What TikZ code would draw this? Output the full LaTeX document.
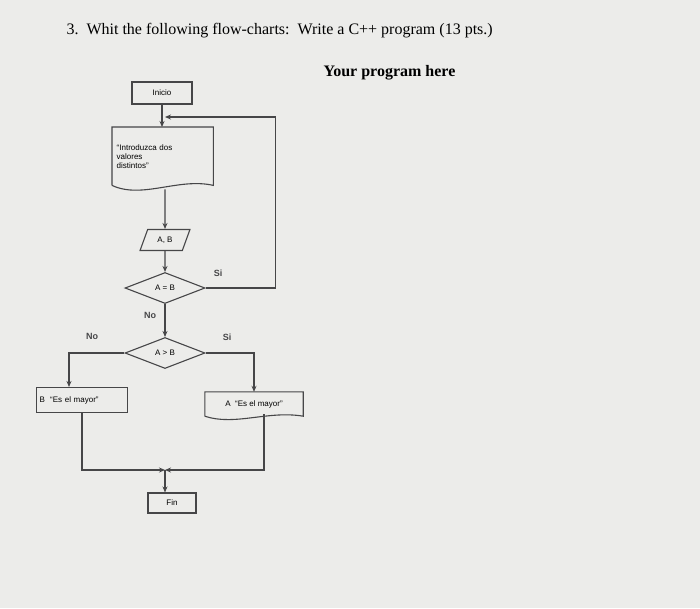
\documentclass[tikz,border=0pt]{standalone}
\usepackage{fontspec}
\setmainfont{Liberation Serif}
\newfontfamily\chartfont{Liberation Sans}
\usetikzlibrary{shapes.geometric, positioning, arrows.meta}
\definecolor{PaperGrey}{RGB}{236, 236, 234}
\definecolor{InkGrey}{RGB}{70, 70, 72}
\tikzset{
  box/.style={draw=InkGrey, line width=1.1pt, font=\chartfont\fontsize{8}{9}\selectfont, inner sep=2pt},
  io/.style={trapezium, trapezium left angle=70, trapezium right angle=110, draw=InkGrey, line width=1.1pt, font=\chartfont\fontsize{8}{9}\selectfont, minimum width=50pt, minimum height=21pt},
  decision/.style={diamond, aspect=2.6, draw=InkGrey, line width=1.1pt, minimum width=80pt, minimum height=31pt, inner sep=0pt, font=\chartfont\fontsize{8}{9}\selectfont},
  flow/.style={draw=InkGrey, line width=1.1pt, -{Stealth[length=6pt, width=5pt]}},
  line/.style={draw=InkGrey, line width=1.1pt},
  tag/.style={font=\chartfont\bfseries\fontsize{9}{10}\selectfont, text=InkGrey}
}
\begin{document}
\begin{tikzpicture}[x=1pt, y=-1pt]
    \fill[PaperGrey] (0,0) rectangle (700,608);
    \useasboundingbox (0,0) rectangle (700,608);

    % Enunciado
    \node[anchor=west, font=\fontsize{16}{18}\selectfont] (title) at (63,31) {3.\ \ Whit the following flow-charts:\ \ Write a C++ program (13 pts.)};
    \node[anchor=west, font=\bfseries\fontsize{16}{18}\selectfont] (here) at (320,73) {Your program here};

    % Bloques
    \node[box, minimum width=60pt, minimum height=22pt] (inicio) at (162,93) {Inicio};
    \node[draw=none, minimum width=101pt, minimum height=58pt, text width=92pt, align=left, anchor=north west,
          font=\chartfont\fontsize{8}{9}\selectfont, inner sep=4pt] (entrada) at (112,127)
          {\char"201C Introduzca dos\\ valores\\ distintos\char"201D\par\vspace{8pt}};
    \draw[line] (entrada.south west) -- (entrada.north west) -- (entrada.north east) -- (entrada.south east)
        .. controls +(-35,-8) and +(30,14) .. (entrada.south west);
    \node[io] (leer) at (165,240) {A, B};
    \node[decision] (igual) at (165,288) {A = B};
    \node[decision] (mayor) at (165,353) {A > B};
    \node[box, minimum width=91pt, minimum height=25pt, text width=85pt, align=left] (bmayor) at (82,400) {B\ \ \char"201C Es el mayor\char"201D};
    \node[draw=none, minimum width=98pt, minimum height=24pt, font=\chartfont\fontsize{8}{9}\selectfont] (amayor) at (254,404) {A\ \ \char"201C Es el mayor\char"201D};
    \draw[line] (amayor.south west) -- (amayor.north west) -- (amayor.north east) -- (amayor.south east)
        .. controls +(-35,-6) and +(30,10) .. (amayor.south west);
    \node[box, minimum width=48pt, minimum height=20pt] (fin) at (172,503) {Fin};

    % Conectores
    \coordinate (vuelta) at (165,117);
    \coordinate (union) at (165,470);
    \draw[flow] (inicio) -- (entrada.north -| inicio);
    \draw[flow] (entrada.south -| leer) ++(0,4) -- (leer);
    \draw[flow] (leer) -- (igual);
    \draw[flow] (igual.east) -- ++(70,0) |- (vuelta);
    \draw[flow] (igual) -- (mayor);
    \draw[flow] (mayor.west) -| (bmayor.north -| 69,0);
    \draw[flow] (mayor.east) -| (amayor.north);
    \draw[flow] (bmayor.south) |- (union);
    \draw[flow] (amayor.south) ++(10,-2) |- (union);
    \draw[flow] (union) -- (fin.north -| union);

    % Etiquetas
    \node[tag] (si1) at (218,273) {Si};
    \node[tag] (no1) at (150,315) {No};
    \node[tag] (no2) at (92,336) {No};
    \node[tag] (si2) at (227,337) {Si};
\end{tikzpicture}
\end{document}
